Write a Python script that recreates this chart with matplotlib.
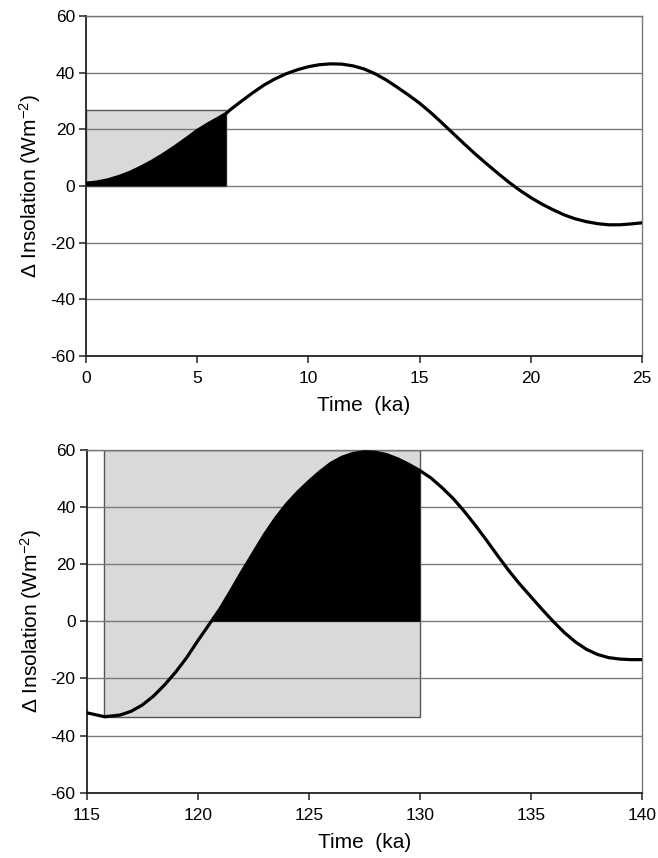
import numpy as np
import matplotlib
matplotlib.use("Agg")
import matplotlib.pyplot as plt
from matplotlib.patches import Rectangle

plt.rcParams["font.family"] = ["Liberation Sans", "DejaVu Sans"]
plt.rcParams["axes.unicode_minus"] = False
plt.rcParams["mathtext.default"] = "regular"

# insolation anomaly, last 25 ka
recent_time = [0, 0.5, 1, 1.5, 2, 2.5, 3, 3.5, 4, 4.5, 5, 5.5, 6, 6.3, 6.5,
               7, 7.5, 8, 8.5, 9, 9.5, 10, 10.5, 11, 11.5, 12, 12.5, 13,
               13.5, 14, 14.5, 15, 15.5, 16, 16.5, 17, 17.5, 18, 18.5, 19,
               19.5, 20, 20.5, 21, 21.5, 22, 22.5, 23, 23.5, 24, 24.5, 25]
recent_insol = [1.0, 1.4, 2.2, 3.4, 4.9, 6.8, 8.9, 11.3, 13.9, 16.7, 19.6,
                22.0, 24.2, 25.6, 27.0, 30.0, 32.9, 35.6, 37.8, 39.6, 41.0,
                42.1, 42.8, 43.1, 43.0, 42.4, 41.3, 39.6, 37.4, 34.8, 32.1,
                29.2, 25.9, 22.3, 18.6, 14.9, 11.3, 7.9, 4.6, 1.4, -1.5,
                -4.1, -6.4, -8.4, -10.2, -11.6, -12.6, -13.3, -13.7, -13.7,
                -13.4, -13.0]

# insolation anomaly, 115-140 ka
eemian_time = [115, 115.8, 116.5, 117, 117.5, 118, 118.5, 119, 119.5, 120,
               120.5, 121, 121.5, 122, 122.5, 123, 123.5, 124, 124.5, 125,
               125.5, 126, 126.5, 127, 127.5, 128, 128.5, 129, 129.5, 130,
               130.5, 131, 131.5, 132, 132.5, 133, 133.5, 134, 134.5, 135,
               135.5, 136, 136.5, 137, 137.5, 138, 138.5, 139, 139.5, 140]
eemian_insol = [-32.0, -33.4, -32.8, -31.5, -29.3, -26.2, -22.3, -17.8, -12.7,
                -6.8, -1.2, 4.4, 10.9, 17.6, 24.0, 30.4, 36.1, 41.1, 45.3,
                49.0, 52.4, 55.4, 57.5, 58.8, 59.4, 59.2, 58.4, 56.9, 55.0,
                52.8, 50.2, 46.8, 43.0, 38.5, 33.6, 28.4, 23.0, 17.8, 13.0,
                8.6, 4.2, 0.0, -3.9, -7.2, -9.8, -11.6, -12.7, -13.2, -13.4,
                -13.4]

# shaded windows: (t_start, t_end, y_low, y_high)
recent_box = (0, 6.3, 0, 26.8)
eemian_box = (115.8, 130, -33.4, 60)


def draw_panel(ax, t, y, box, xlim, xticks):
    t = np.asarray(t, dtype=float)
    y = np.asarray(y, dtype=float)
    t0, t1, ylo, yhi = box

    ax.add_patch(Rectangle((t0, ylo), t1 - t0, yhi - ylo,
                           facecolor="#d9d9d9", edgecolor="#555555",
                           linewidth=1.0, zorder=0.3))
    inside = (t >= t0) & (t <= t1)
    tw, yw = t[inside], y[inside]
    ax.fill_between(tw, 0, yw, where=yw >= 0, interpolate=True,
                    color="black", linewidth=0, zorder=1)
    ax.plot(t, y, color="black", linewidth=2.3, zorder=3,
            solid_joinstyle="round")

    ax.set_xlim(*xlim)
    ax.set_ylim(-60, 60)
    ax.set_xticks(xticks)
    ax.set_yticks(range(-60, 61, 20))
    ax.set_axisbelow(True)
    ax.yaxis.grid(True, color="#7a7a7a", linewidth=1.0)
    ax.xaxis.grid(False)

    for side in ("left", "bottom"):
        ax.spines[side].set_color("#222222")
        ax.spines[side].set_linewidth(1.3)
    for side in ("top", "right"):
        ax.spines[side].set_color("#777777")
        ax.spines[side].set_linewidth(1.0)

    ax.tick_params(axis="y", direction="out", length=5, width=1.1,
                   color="#222222", labelsize=12.5, pad=3)
    ax.tick_params(axis="x", direction="out", length=5, width=1.1,
                   color="#222222", labelsize=12.5, pad=6)
    ax.set_xlabel("Time  (ka)", fontsize=15, labelpad=7)
    ax.set_ylabel("\u0394 Insolation (Wm$^{-2}$)", fontsize=15, labelpad=5)


fig = plt.figure(figsize=(6.58, 8.58), dpi=100)
ax_top = fig.add_axes([0.1307, 0.5851, 0.8450, 0.3963])
ax_bot = fig.add_axes([0.1318, 0.0761, 0.8439, 0.3994])

draw_panel(ax_top, recent_time, recent_insol, recent_box, (0, 25),
           range(0, 26, 5))
draw_panel(ax_bot, eemian_time, eemian_insol, eemian_box, (115, 140),
           range(115, 141, 5))

fig.savefig("out.png", dpi=100)
